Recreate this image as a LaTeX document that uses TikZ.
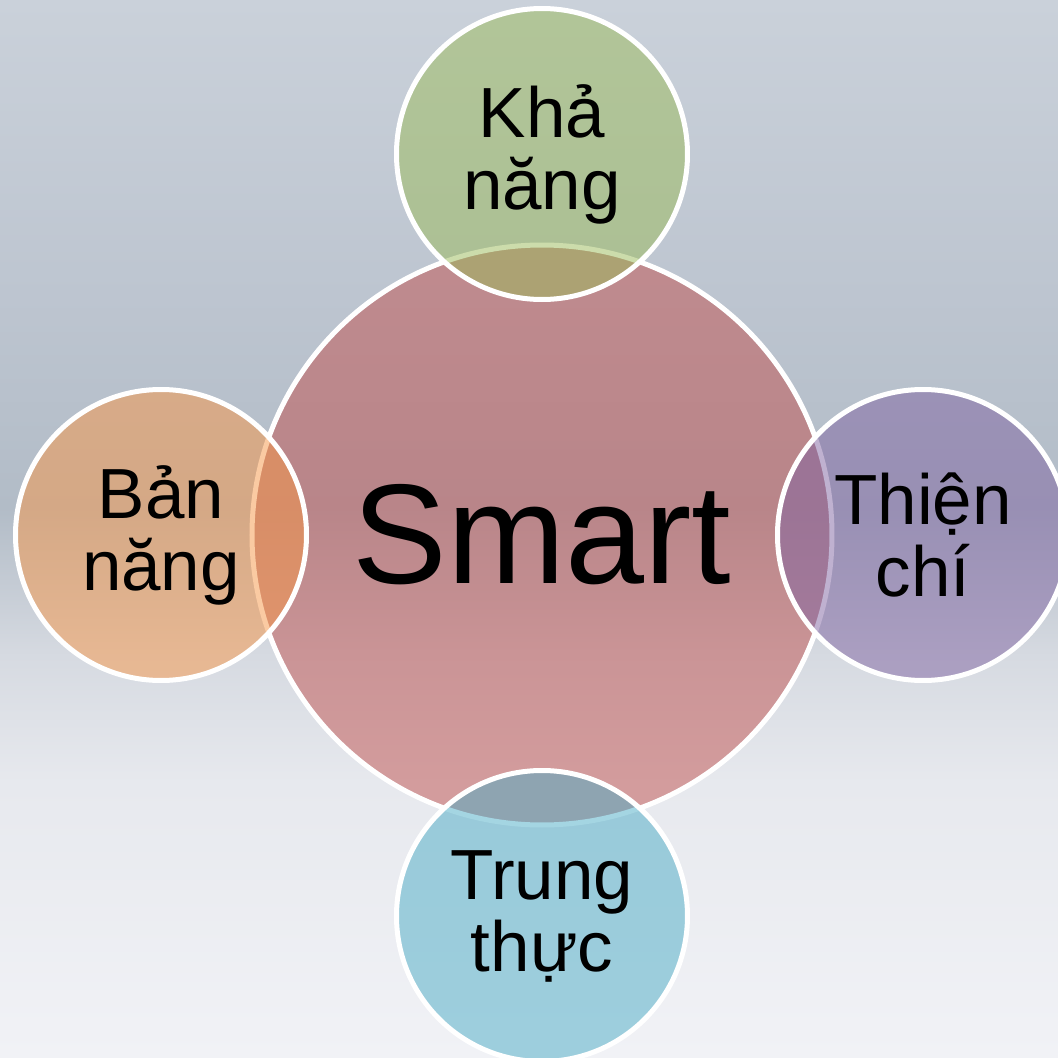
\documentclass[tikz,border=0pt]{standalone}
\usepackage{fontspec}
\setmainfont{Liberation Sans}
\usepackage{xcolor}
\usetikzlibrary{positioning}

% office-like accent colours, laid on at half opacity
\definecolor{vennred}{HTML}{C0504D}
\definecolor{venngreen}{HTML}{9BBB59}
\definecolor{vennpurple}{HTML}{8064A2}
\definecolor{vennaqua}{HTML}{4BACC6}
\definecolor{vennorange}{HTML}{F79646}

% backdrop colours, bottom to top
\definecolor{bgbottom}{RGB}{241,242,246}
\definecolor{bglight}{RGB}{231,233,238}
\definecolor{bgpale}{RGB}{214,218,225}
\definecolor{bgdark}{RGB}{178,188,199}
\definecolor{bgmid}{RGB}{189,197,208}
\definecolor{bgtop}{RGB}{202,209,218}
\pgfdeclareverticalshading{backdrop}{100bp}{color(0bp)=(bgbottom); color(25bp)=(bgbottom);
  color(38bp)=(bglight); color(44bp)=(bgpale); color(51bp)=(bgdark); color(61bp)=(bgmid);
  color(75bp)=(bgtop); color(100bp)=(bgtop)}

\begin{document}
\begin{tikzpicture}
\tikzset{
venn/.style={circle, draw=white, line width=0.05cm, fill opacity=0.5, text opacity=1, inner sep=0pt},
bigcircle/.style={venn, minimum size=5.80cm, font=\fontsize{40.4pt}{48pt}\selectfont},
smallcircle/.style={venn, minimum size=2.91cm, align=center, on grid,
    font=\fontsize{20.2pt}{20.5pt}\selectfont}
 }
\useasboundingbox (0,0) rectangle (10.58,10.58);
\clip (0,0) rectangle (10.58,10.58);
\shade[shading=backdrop] (0,0) rectangle (10.58,10.58);

\node[bigcircle, fill=vennred] (smart) at (5.42,5.23) {Smart};
\node[smallcircle, fill=venngreen, above=3.81cm of smart] (ability) {Khả\\năng};
\node[smallcircle, fill=vennorange, left=3.81cm of smart] (instinct) {Bản\\năng};
\node[smallcircle, fill=vennpurple, right=3.81cm of smart] (goodwill) {Thiện\\chí};
\node[smallcircle, fill=vennaqua, below=3.81cm of smart] (honesty) {Trung\\thực};
\end{tikzpicture}
\end{document}
